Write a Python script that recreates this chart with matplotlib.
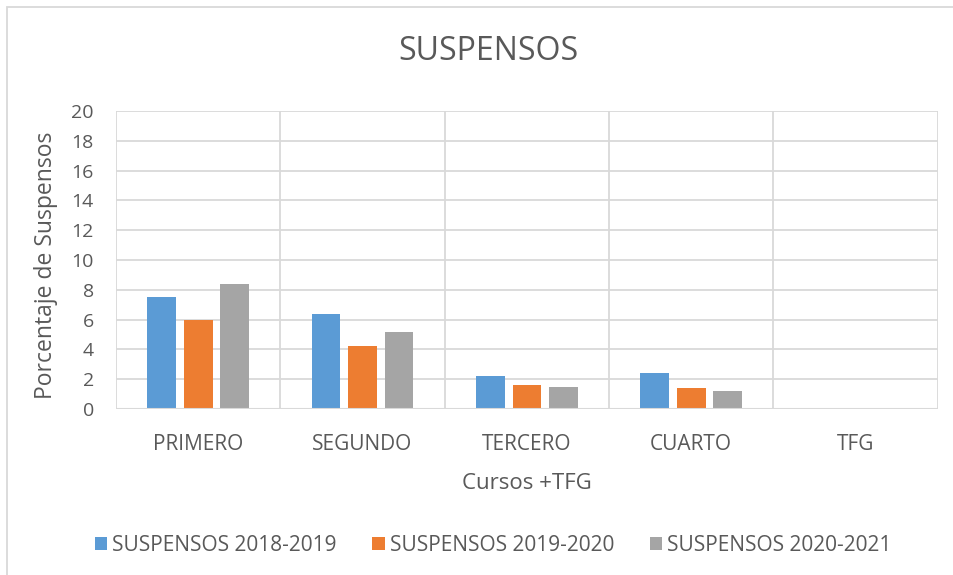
import matplotlib.pyplot as plt
import numpy as np
from matplotlib.patches import Rectangle

cursos = ["PRIMERO", "SEGUNDO", "TERCERO", "CUARTO", "TFG"]
series = ["SUSPENSOS 2018-2019", "SUSPENSOS 2019-2020", "SUSPENSOS 2020-2021"]
s_2018 = [7.5, 6.4, 2.2, 2.4, 0]
s_2019 = [6.0, 4.2, 1.6, 1.4, 0]
s_2020 = [8.4, 5.2, 1.5, 1.2, 0]
colores = ["#5b9bd5", "#ed7d31", "#a5a5a5"]

plt.rcParams['font.family'] = ['Open Sans', 'DejaVu Sans']
txt = "#595959"

fig = plt.figure(figsize=(9.54, 5.75), dpi=100)
ax = fig.add_axes([0.1216, 0.2887, 0.8614, 0.5183])

x = np.arange(len(cursos))
ancho = 0.175
desp = 0.222
for i, (vals, nombre) in enumerate(zip([s_2018, s_2019, s_2020], series)):
    ax.bar(x + (i - 1) * desp, vals, ancho, color=colores[i], label=nombre, zorder=3)

ax.set_xlim(-0.5, len(cursos) - 0.5)
ax.set_ylim(0, 20)
ax.set_yticks(np.arange(0, 21, 2))
ax.set_xticks(x)
ax.set_xticklabels(cursos)
ax.tick_params(axis='both', length=0, colors=txt)
ax.tick_params(axis='x', labelsize=15, pad=18)
ax.tick_params(axis='y', labelsize=14, pad=16)

# rejilla estilo excel
ax.grid(axis='y', color='#d9d9d9', linewidth=1.3, zorder=0)
for b in np.arange(-0.5, len(cursos), 1.0):
    ax.axvline(b, color='#d9d9d9', linewidth=1.3, zorder=0)
for s in ax.spines.values():
    s.set_visible(False)
ax.axhline(0, color='#d9d9d9', linewidth=1.5, zorder=4)

ax.set_ylabel("Porcentaje de Suspensos", fontsize=16.5, color=txt, va='center', ha='center')
ax.yaxis.set_label_coords(-0.085, 0.483)
ax.set_xlabel("Cursos +TFG", fontsize=16, color=txt, labelpad=13)
fig.text(0.512, 0.91, "SUSPENSOS", ha='center', va='center', fontsize=23, color=txt)

ax.legend(loc='center', bbox_to_anchor=(0.517, 0.052), bbox_transform=fig.transFigure,
          ncol=3, frameon=False, fontsize=15, labelcolor=txt, handlelength=0.6, handleheight=0.6,
          handletextpad=0.25, columnspacing=1.7)

# marco del grafico (recortado abajo y a la derecha)
fig.patches.append(Rectangle((0.0073, -0.1), 1.2, 1.0878, transform=fig.transFigure,
                             fill=False, edgecolor='#d9d9d9', linewidth=1.3))

fig.savefig("out.png", dpi=100)
